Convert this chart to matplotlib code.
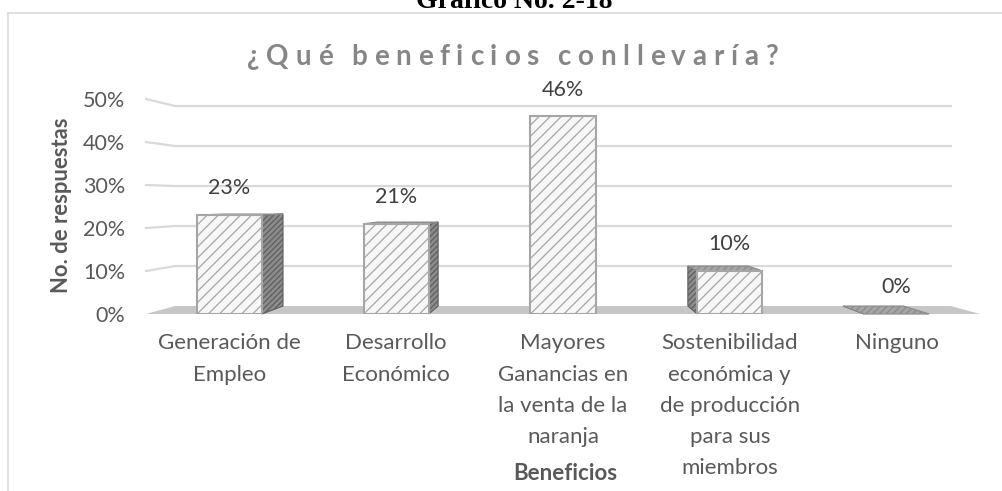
import matplotlib
matplotlib.use("Agg")
import matplotlib.pyplot as plt
from matplotlib.patches import Polygon
from matplotlib.font_manager import FontProperties
from matplotlib.lines import Line2D

# datos del grafico
categorias = ["Generación de\nEmpleo", "Desarrollo\nEconómico",
              "Mayores\nGanancias en\nla venta de la\nnaranja",
              "Sostenibilidad\neconómica y\nde producción\npara sus\nmiembros",
              "Ninguno"]
porcentajes = [0.23, 0.21, 0.46, 0.10, 0.0]
valores_y = [0, 0.1, 0.2, 0.3, 0.4, 0.5]
etiquetas_y = ["0%", "10%", "20%", "30%", "40%", "50%"]
titulo = "¿Qué beneficios conllevaría?"
encabezado = "Gráfico No. 2-18"
eje_y = "No. de respuestas"
eje_x = "Beneficios"

GRIS_TXT = "#595959"
GRIS_GRID = "#d9d9d9"
FUENTE = "Lato"

# punto de fuga para el efecto 3D (en coordenadas de datos)
VX, VY, T = 2.0, 0.265, 0.07


def fondo(x, y):
    return (x + (VX - x) * T, y + (VY - y) * T)


W, H = 1003, 491
fig = plt.figure(figsize=(W / 100, H / 100), dpi=100)
fig.patch.set_facecolor("white")

ax = fig.add_axes([146 / W, (H - 314) / H, 834 / W, 215 / H])
ax.set_xlim(-0.5, 4.5)
ax.set_ylim(0, 0.5)
for s in ax.spines.values():
    s.set_visible(False)
ax.patch.set_alpha(0)

# lineas de la pared del fondo
for v in valores_y[1:]:
    p1 = fondo(-0.5, v)
    p2 = fondo(4.5, v)
    ax.plot([-0.5, p1[0], p2[0]], [v, p1[1], p2[1]], color=GRIS_GRID,
            lw=1.6, clip_on=False, zorder=1)

# piso
a, b = fondo(-0.5, 0), fondo(4.5, 0)
ax.add_patch(Polygon([(-0.5, 0), a, b, (4.5, 0)], closed=True,
                     facecolor="#c6c6c6", edgecolor="none", clip_on=False, zorder=2))

ancho = 0.39
x = list(range(len(categorias)))

plt.rcParams["hatch.linewidth"] = 0.9
for xi, v in zip(x, porcentajes):
    xl, xr = xi - ancho / 2, xi + ancho / 2
    # caras laterales
    if xr < VX:
        cara = [(xr, 0), (xr, v), fondo(xr, v), fondo(xr, 0)]
        ax.add_patch(Polygon(cara, closed=True, facecolor="#8c8c8c",
                             edgecolor="#5e5e5e", hatch="//////", lw=0.8,
                             clip_on=False, zorder=3))
    if xl > VX:
        cara = [(xl, 0), (xl, v), fondo(xl, v), fondo(xl, 0)]
        ax.add_patch(Polygon(cara, closed=True, facecolor="#8c8c8c",
                             edgecolor="#5e5e5e", hatch="//////", lw=0.8,
                             clip_on=False, zorder=3))
    if v < VY:
        tapa = [(xl, v), (xr, v), fondo(xr, v), fondo(xl, v)]
        ax.add_patch(Polygon(tapa, closed=True, facecolor="#a6a6a6",
                             edgecolor="#8a8a8a", hatch="/////", lw=0.8,
                             clip_on=False, zorder=3))

barras = ax.bar(x, porcentajes, width=ancho, facecolor="#f7f7f7",
                edgecolor="#a6a6a6", hatch="///", linewidth=1.5, zorder=4)
for rect in barras:
    if rect.get_height() == 0:
        rect.set_visible(False)

for xi, v in zip(x, porcentajes):
    ax.annotate(f"{v * 100:.0f}%", (xi, v), xytext=(0, 12),
                textcoords="offset points", ha="center", va="bottom",
                fontsize=15.5, color="#404040", family=FUENTE,
                annotation_clip=False)

ax.set_yticks(valores_y)
ax.set_yticklabels(etiquetas_y, fontsize=15.5, color=GRIS_TXT, family=FUENTE)
ax.set_xticks(x)
ax.set_xticklabels(categorias, fontsize=16, color=GRIS_TXT, family=FUENTE,
                   linespacing=1.7)
ax.tick_params(axis="y", length=0, pad=15)
ax.tick_params(axis="x", length=0, pad=14)

fig.text(62 / W, (H - 205) / H, eje_y, rotation=90, ha="center", va="center",
         fontsize=15.8, fontweight="bold", color=GRIS_TXT, family=FUENTE)
fig.text(565 / W, (H - 473) / H, eje_x, ha="center", va="center",
         fontsize=16, fontweight="bold", color=GRIS_TXT, family=FUENTE)

# titulo con espaciado entre letras
fp = FontProperties(family=FUENTE, weight="bold", size=20)
ren = fig.canvas.get_renderer()
anchos = []
for c in titulo:
    if c == " ":
        anchos.append(5.0)
    else:
        w, h, d = ren.get_text_width_height_descent(c, fp, ismath=False)
        anchos.append(w)
x0, x1 = 247, 778
gap = (x1 - x0 - sum(anchos)) / (len(titulo) - 1)
pos = x0
for c, w in zip(titulo, anchos):
    if c != " ":
        fig.text(pos / W, (H - 57) / H, c, ha="left", va="center",
                 fontproperties=fp, color="#868686")
    pos += w + gap

# encabezado cortado arriba
fig.text(514 / W, (H - 8) / H, encabezado, ha="center", va="baseline",
         fontsize=20, fontweight="bold", family="Liberation Serif", color="black")

# borde del area del grafico
fig.add_artist(Line2D([8 / W, 1.0], [(H - 13) / H, (H - 13) / H],
                      color=GRIS_GRID, lw=1.2))
fig.add_artist(Line2D([8 / W, 8 / W], [0, (H - 13) / H], color=GRIS_GRID, lw=1.2))

fig.savefig("out.png", dpi=100, facecolor="white")
